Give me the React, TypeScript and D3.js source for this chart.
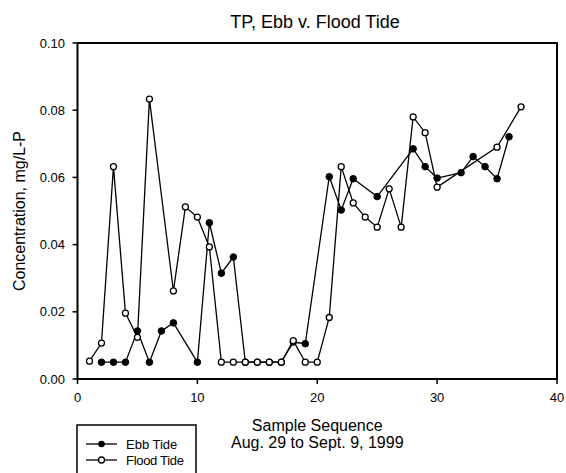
import React from "react";
import * as d3 from "d3";

const ebbX = [2, 3, 4, 5, 6, 7, 8, 10, 11, 12, 13, 14, 15, 16, 17, 18, 19, 21, 22, 23, 25, 28, 29, 30, 32, 33, 34, 35, 36];
const ebbY = [0.005, 0.005, 0.005, 0.0143, 0.005, 0.0143, 0.0167, 0.005, 0.0465, 0.0315, 0.0363, 0.005, 0.005, 0.005, 0.005, 0.011, 0.0105, 0.0602, 0.0503, 0.0596, 0.0543, 0.0685, 0.0632, 0.0598, 0.0614, 0.0662, 0.0632, 0.0596, 0.0721];
const floodX = [1, 2, 3, 4, 5, 6, 8, 9, 10, 11, 12, 13, 14, 15, 16, 17, 18, 19, 20, 21, 22, 23, 24, 25, 26, 27, 28, 29, 30, 35, 37];
const floodY = [0.0053, 0.0107, 0.0632, 0.0196, 0.0124, 0.0833, 0.0262, 0.0512, 0.0482, 0.0393, 0.005, 0.005, 0.005, 0.005, 0.005, 0.005, 0.0114, 0.005, 0.005, 0.0183, 0.0632, 0.0524, 0.0482, 0.0452, 0.0566, 0.0452, 0.078, 0.0733, 0.0571, 0.069, 0.081];
const xTicks = [0, 10, 20, 30, 40];
const yTicks = [0, 0.02, 0.04, 0.06, 0.08, 0.1];

const W = 566, H = 473;
const L = 77.5, R = 557, T = 43, B = 379;
const font = "'Liberation Sans', Arial, sans-serif";

export default function App() {
  const x = d3.scaleLinear().domain([0, 40]).range([L, R]);
  const y = d3.scaleLinear().domain([0, 0.1]).range([B, T]);
  const line = d3.line<[number, number]>().x(d => x(d[0])).y(d => y(d[1]));
  const ebb: [number, number][] = ebbX.map((v, i) => [v, ebbY[i]]);
  const flood: [number, number][] = floodX.map((v, i) => [v, floodY[i]]);
  return (
    <svg width={W} height={H} style={{ position: "absolute", left: 0, top: 0 }} fontFamily={font}>
      <rect x={0} y={0} width={W} height={H} fill="#fff" />
      <text x={315} y={28} textAnchor="middle" fontSize={18}>TP, Ebb v. Flood Tide</text>
      <rect x={L} y={T} width={R - L} height={B - T} fill="none" stroke="#000" strokeWidth={2} />
      {yTicks.map(t => (
        <g key={"y" + t}>
          <line x1={L - 5} x2={L} y1={y(t)} y2={y(t)} stroke="#000" strokeWidth={1.5} />
          <text x={65} y={y(t) + 4.5} textAnchor="end" fontSize={13}>{t.toFixed(2)}</text>
        </g>
      ))}
      {xTicks.map(t => (
        <g key={"x" + t}>
          <line x1={x(t)} x2={x(t)} y1={B} y2={B + 5} stroke="#000" strokeWidth={1.5} />
          <text x={x(t)} y={402} textAnchor="middle" fontSize={13}>{t}</text>
        </g>
      ))}
      <text x={(L + R) / 2} y={431} textAnchor="middle" fontSize={16}>Sample Sequence</text>
      <text x={(L + R) / 2} y={448} textAnchor="middle" fontSize={16}>Aug. 29 to Sept. 9, 1999</text>
      <text transform={`translate(25,${(T + B) / 2}) rotate(-90)`} textAnchor="middle" fontSize={16}>Concentration, mg/L-P</text>
      <path d={line(ebb) || ""} fill="none" stroke="#000" strokeWidth={1.3} />
      <path d={line(flood) || ""} fill="none" stroke="#000" strokeWidth={1.3} />
      {ebb.map((d, i) => (
        <circle key={"e" + i} cx={x(d[0])} cy={y(d[1])} r={3.3} fill="#000" stroke="#000" strokeWidth={1} />
      ))}
      {flood.map((d, i) => (
        <circle key={"f" + i} cx={x(d[0])} cy={y(d[1])} r={3} fill="#fff" stroke="#000" strokeWidth={1.3} />
      ))}
      <rect x={77} y={425} width={119} height={60} fill="#fff" stroke="#000" strokeWidth={1.5} />
      <line x1={86} x2={117} y1={444} y2={444} stroke="#000" strokeWidth={1.3} />
      <circle cx={101.5} cy={444} r={3.3} fill="#000" />
      <text x={126} y={448.5} fontSize={13}>Ebb Tide</text>
      <line x1={86} x2={117} y1={460} y2={460} stroke="#000" strokeWidth={1.3} />
      <circle cx={101.5} cy={460} r={3} fill="#fff" stroke="#000" strokeWidth={1.3} />
      <text x={126} y={464.5} fontSize={13} letterSpacing={-0.3}>Flood Tide</text>
    </svg>
  );
}
